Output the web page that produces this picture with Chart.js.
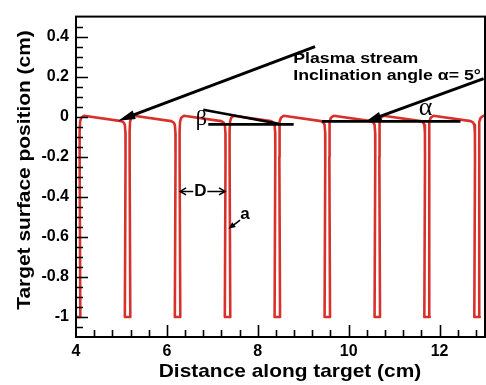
<!DOCTYPE html>
<html><head><meta charset="utf-8">
<script src="https://cdn.jsdelivr.net/npm/chart.js@4/dist/chart.umd.min.js"></script>
<style>html,body{margin:0;padding:0;background:#fff}</style>
</head><body>
<canvas id="c" width="486" height="385"></canvas>
<script>
// ---- data ----
const profileX = [
  3.99, 3.975, 4.095, 4.08, 4.08, 4.09, 4.115, 4.175,
  4.995, 5.045, 5.075, 5.088, 5.09, 5.075, 5.195, 5.18, 5.18, 5.19, 5.215, 5.275,
  6.095, 6.145, 6.175, 6.188, 6.19, 6.175, 6.295, 6.28, 6.28, 6.29, 6.315, 6.375,
  7.195, 7.245, 7.275, 7.288, 7.29, 7.275, 7.395, 7.38, 7.38, 7.39, 7.415, 7.475,
  8.29, 8.34, 8.37, 8.383, 8.385, 8.37, 8.49, 8.475, 8.475, 8.485, 8.51, 8.57,
  9.39, 9.44, 9.47, 9.483, 9.485, 9.47, 9.59, 9.575, 9.575, 9.585, 9.61, 9.67,
  10.49, 10.54, 10.57, 10.583, 10.585, 10.57, 10.69, 10.675, 10.675, 10.685, 10.71, 10.77,
  11.585, 11.635, 11.665, 11.678, 11.68, 11.665, 11.785, 11.77, 11.77, 11.78, 11.805, 11.865,
  12.685, 12.735, 12.765, 12.778, 12.78, 12.765, 12.885, 12.87, 12.87, 12.88, 12.905, 12.965, 13.1
];
const profileY = [
  -0.2, -1.0, -1.0, -0.2, -0.07, -0.025, -0.005, 0.005,
  -0.022, -0.028, -0.04, -0.08, -0.2, -1.0, -1.0, -0.2, -0.07, -0.025, -0.005, 0.005,
  -0.022, -0.028, -0.04, -0.08, -0.2, -1.0, -1.0, -0.2, -0.07, -0.025, -0.005, 0.005,
  -0.022, -0.028, -0.04, -0.08, -0.2, -1.0, -1.0, -0.2, -0.07, -0.025, -0.005, 0.005,
  -0.022, -0.028, -0.04, -0.08, -0.2, -1.0, -1.0, -0.2, -0.07, -0.025, -0.005, 0.005,
  -0.022, -0.028, -0.04, -0.08, -0.2, -1.0, -1.0, -0.2, -0.07, -0.025, -0.005, 0.005,
  -0.022, -0.028, -0.04, -0.08, -0.2, -1.0, -1.0, -0.2, -0.07, -0.025, -0.005, 0.005,
  -0.022, -0.028, -0.04, -0.08, -0.2, -1.0, -1.0, -0.2, -0.07, -0.025, -0.005, 0.005,
  -0.022, -0.028, -0.04, -0.08, -0.2, -1.0, -1.0, -0.2, -0.07, -0.025, -0.005, 0.005, 0.0
];
const xTickValues = [4, 6, 8, 10, 12];
const yTickValues = [-1, -0.8, -0.6, -0.4, -0.2, 0, 0.2, 0.4];
const xTitle = 'Distance along target (cm)';
const yTitle = 'Target surface position (cm)';
const annotationTexts = ['Plasma stream', 'Inclination angle \u03B1= 5\u00B0', '\u03B1', '\u03B2', 'D', 'a'];
// annotation anchor points in data units
const plasmaArrow = [[9.26, 0.35], [4.93, -0.02]];
const alphaArrow = [[12.97, 0.19], [10.37, -0.025]];
const alphaLine = [[9.41, -0.023], [12.46, -0.023]];
const betaLine = [[6.91, -0.038], [8.79, -0.038]];
const betaSlant = [[6.80, 0.035], [8.46, -0.035]];
const dArrowLeft = [[6.58, -0.373], [6.29, -0.373]];
const dArrowRight = [[6.89, -0.373], [7.28, -0.373]];
const aArrow = [[7.61, -0.516], [7.355, -0.56]];
const textAnchors = [[8.78, 0.267], [8.78, 0.182], [11.69, 0.045], [6.76, -0.013], [6.735, -0.371], [7.72, -0.487]];

const RED = '#d7312c';
const AX_FONT = '"Liberation Sans", Arial, Helvetica, sans-serif';

const annot = {
  id: 'annot',
  afterDatasetsDraw(chart) {
    const ctx = chart.ctx, a = chart.chartArea;
    const sx = chart.scales.x, sy = chart.scales.y;
    const P = p => [sx.getPixelForValue(p[0]), sy.getPixelForValue(p[1])];
    ctx.save();
    ctx.save();
    ctx.beginPath(); ctx.rect(a.left, a.top, a.right - a.left, a.bottom - a.top); ctx.clip();
    ctx.strokeStyle = '#000'; ctx.fillStyle = '#000'; ctx.lineCap = 'butt';
    function line(seg, w) {
      const [x1, y1] = P(seg[0]), [x2, y2] = P(seg[1]);
      ctx.lineWidth = w; ctx.beginPath(); ctx.moveTo(x1, y1); ctx.lineTo(x2, y2); ctx.stroke();
    }
    function arrow(seg, w, len, wid, filled) {
      const [x1, y1] = P(seg[0]), [x2, y2] = P(seg[1]);
      const ang = Math.atan2(y2 - y1, x2 - x1);
      const bx = x2 - len * Math.cos(ang), by = y2 - len * Math.sin(ang);
      ctx.lineWidth = w; ctx.beginPath(); ctx.moveTo(x1, y1);
      ctx.lineTo(filled ? bx + 2 * Math.cos(ang) : x2, filled ? by + 2 * Math.sin(ang) : y2); ctx.stroke();
      const nx = -Math.sin(ang) * wid / 2, ny = Math.cos(ang) * wid / 2;
      ctx.beginPath();
      ctx.moveTo(bx + nx, by + ny); ctx.lineTo(x2, y2); ctx.lineTo(bx - nx, by - ny);
      if (filled) { ctx.closePath(); ctx.fill(); } else { ctx.lineWidth = 1.5; ctx.stroke(); }
    }
    line(alphaLine, 2.6);
    line(betaLine, 2.6);
    line(betaSlant, 2.6);
    arrow(plasmaArrow, 3, 17, 9, true);
    arrow(alphaArrow, 3, 16, 9, true);
    arrow(dArrowLeft, 1.5, 6, 7, false);
    arrow(dArrowRight, 1.5, 6, 7, false);
    arrow(aArrow, 1.5, 7, 6, true);
    function stretchText(t, p, font, sxf, align) {
      const [x, y] = P(p);
      ctx.save(); ctx.font = font; ctx.textAlign = align; ctx.textBaseline = 'alphabetic';
      ctx.translate(x, y); ctx.scale(sxf, 1); ctx.fillText(t, 0, 0); ctx.restore();
    }
    stretchText(annotationTexts[0], textAnchors[0], 'bold 15px ' + AX_FONT, 1.18, 'left');
    stretchText(annotationTexts[1], textAnchors[1], 'bold 15px ' + AX_FONT, 1.18, 'left');
    function centerText(t, p, font) {
      const [x, y] = P(p);
      ctx.font = font; ctx.textAlign = 'center'; ctx.textBaseline = 'middle'; ctx.fillText(t, x, y);
    }
    centerText(annotationTexts[2], textAnchors[2], '26px "Liberation Serif", "Times New Roman", serif');
    centerText(annotationTexts[3], textAnchors[3], '22px "Liberation Serif", "Times New Roman", serif');
    centerText(annotationTexts[4], textAnchors[4], 'bold 17px ' + AX_FONT);
    centerText(annotationTexts[5], textAnchors[5], 'bold 17px ' + AX_FONT);
    ctx.restore();

    // frame
    ctx.strokeStyle = '#000'; ctx.lineWidth = 2;
    ctx.strokeRect(a.left, a.top, a.right - a.left, a.bottom - a.top);
    // inner ticks
    ctx.lineWidth = 1.6;
    ctx.beginPath();
    for (let i = 1; i < 32; i++) {
      const v = sy.min + i * 0.05;
      const major = Math.abs(v * 5 - Math.round(v * 5)) < 1e-6;
      const y = Math.round(sy.getPixelForValue(v)) + 0.5;
      ctx.moveTo(a.left, y); ctx.lineTo(a.left + (major ? 12 : 7), y);
    }
    for (let i = 1; i < 23; i++) {
      const v = sx.min + i * 0.4;
      const major = i % 5 === 0;
      const x = Math.round(sx.getPixelForValue(v)) + 0.5;
      ctx.moveTo(x, a.bottom); ctx.lineTo(x, a.bottom - (major ? 12 : 7));
    }
    ctx.stroke();
    // axis titles
    ctx.fillStyle = '#000';
    ctx.font = 'bold 19px ' + AX_FONT; ctx.textAlign = 'center'; ctx.textBaseline = 'middle';
    ctx.save(); ctx.translate(290, 372); ctx.scale(1.1, 1); ctx.fillText(xTitle, 0, 0); ctx.restore();
    ctx.save(); ctx.translate(25, 170); ctx.rotate(-Math.PI / 2); ctx.scale(1.1, 1); ctx.fillText(yTitle, 0, 0); ctx.restore();
    ctx.restore();
  }
};

new Chart(document.getElementById('c'), {
  type: 'line',
  data: {
    datasets: [{
      data: profileX.map((x, i) => ({ x: x, y: profileY[i] })),
      borderColor: RED, borderWidth: 2.6, pointRadius: 0, fill: false, tension: 0,
      borderJoinStyle: 'round', borderCapStyle: 'round'
    }]
  },
  options: {
    responsive: false, animation: false, devicePixelRatio: 1,
    layout: { padding: { left: 0, right: 1, top: 10, bottom: 0 } },
    plugins: { legend: { display: false }, tooltip: { enabled: false } },
    scales: {
      x: {
        type: 'linear', min: 4, max: 13,
        afterBuildTicks: s => { s.ticks = xTickValues.map(v => ({ value: v })); },
        afterFit: s => { s.height = 48; },
        grid: { display: false, drawTicks: false }, border: { display: false },
        ticks: { color: '#000', font: { family: AX_FONT, size: 16, weight: 'bold' }, padding: 5, maxRotation: 0,
                 autoSkip: false, callback: v => String(v) }
      },
      y: {
        type: 'linear', min: -1.1, max: 0.5,
        afterBuildTicks: s => { s.ticks = yTickValues.map(v => ({ value: v })); },
        afterFit: s => { s.width = 76; },
        grid: { display: false, drawTicks: false }, border: { display: false },
        ticks: { color: '#000', font: { family: AX_FONT, size: 16, weight: 'bold' }, padding: 7,
                 autoSkip: false, callback: v => (v === 0 ? '0' : String(v)) }
      }
    }
  },
  plugins: [annot]
});
</script>
</body></html>
